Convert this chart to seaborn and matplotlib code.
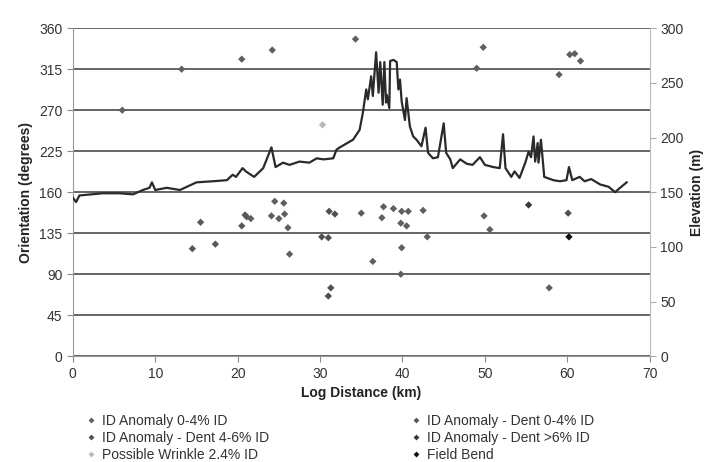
import pandas as pd
import seaborn as sns
import matplotlib.pyplot as plt

# elevation profile along the line (km, m)
dist_km = [0, 0.4, 0.8, 3.6, 5.7, 7.3, 8.5, 9.3, 9.6, 10.0, 11.4, 13.0, 15.0, 17.0,
           18.7, 19.4, 19.8, 20.6, 21.0, 22.0, 23.1, 24.1, 24.6, 25.5, 26.3, 27.5,
           28.7, 29.6, 30.4, 31.6, 32.0, 32.4, 34.0, 34.8, 35.2, 35.6, 35.8, 36.2,
           36.4, 36.8, 37.1, 37.3, 37.6, 37.8, 38.0, 38.1, 38.4, 38.5, 38.9, 39.3,
           39.5, 39.7, 39.9, 40.3, 40.5, 40.9, 41.3, 41.7, 42.3, 42.8, 43.1, 43.7,
           44.3, 45.0, 45.3, 45.8, 46.1, 47.0, 47.8, 48.5, 49.4, 50.0, 51.0, 51.8,
           52.2, 52.5, 53.2, 53.6, 54.2, 54.9, 55.3, 55.6, 55.9, 56.1, 56.4, 56.5,
           56.8, 57.2, 58.3, 59.1, 59.9, 60.2, 60.6, 61.5, 62.1, 62.9, 64.0, 65.0,
           65.8, 66.4, 67.2]
elev_m = [145, 141, 147, 149, 149, 148, 152, 154, 159, 152, 154, 152, 159, 160,
          161, 166, 164, 172, 169, 164, 172, 191, 173, 177, 175, 178,
          177, 181, 180, 181, 189, 191, 198, 207, 223, 244, 235, 256,
          238, 278, 241, 269, 230, 269, 232, 239, 227, 270, 271, 269,
          244, 253, 233, 216, 236, 210, 201, 198, 192, 209, 186, 181,
          182, 213, 186, 180, 172, 180, 176, 175, 182, 175, 173, 172,
          203, 172, 164, 169, 163, 177, 187, 182, 201, 178, 195, 177,
          198, 164, 161, 160, 161, 173, 161, 164, 160, 162, 157, 155,
          150, 154, 159]

# features (km, orientation in degrees, type)
feat_km = [6.0, 13.2, 20.5, 24.2, 34.3, 49.8, 49.0, 59.0, 60.3, 60.9, 61.6,
           14.5, 15.5, 17.3, 20.5, 20.9, 21.1, 21.6, 24.5, 24.1, 25.0, 25.6, 25.7,
           26.1, 26.3, 30.2, 31.0, 31.1, 31.8, 31.0, 31.3, 35.0, 36.4, 37.5, 37.7,
           38.9, 39.9, 40.7, 39.8, 40.5, 39.9, 39.8, 42.5, 43.0, 49.9, 50.6, 57.8,
           30.3, 55.3, 60.1, 60.2]
feat_deg = [270, 315, 326, 336, 348, 339, 316, 309, 331, 332, 324,
            118, 147, 123, 143, 155, 153, 151, 170, 154, 151, 168, 156,
            141, 112, 131, 130, 159, 156, 66, 75, 157, 104, 152, 164,
            162, 159, 159, 146, 143, 119, 90, 160, 131, 154, 139, 75,
            254, 166, 157, 131]
feat_type = (['ID Anomaly 0-4% ID'] * 11
             + ['ID Anomaly - Dent 0-4% ID'] * 6
             + ['ID Anomaly 0-4% ID'] * 8
             + ['ID Anomaly - Dent 4-6% ID'] * 6
             + ['ID Anomaly 0-4% ID'] * 16
             + ['Possible Wrinkle 2.4% ID', 'ID Anomaly - Dent >6% ID',
                'ID Anomaly - Dent 4-6% ID', 'Field Bend'])

kinds = ['ID Anomaly 0-4% ID', 'ID Anomaly - Dent 4-6% ID', 'Possible Wrinkle 2.4% ID',
         'ID Anomaly - Dent 0-4% ID', 'ID Anomaly - Dent >6% ID', 'Field Bend']
kind_colors = ['#5f5f5f', '#505050', '#b8b8b8', '#585858', '#3a3a3a', '#111111']

deg_ticks = [0, 45, 90, 135, 180, 225, 270, 315, 360]
deg_labels = ['0', '45', '90', '135', '160', '225', '270', '315', '360']

plt.rcParams['font.family'] = ['Liberation Sans', 'DejaVu Sans']

profile = pd.DataFrame({'km': dist_km, 'elev': elev_m})
feats = pd.DataFrame({'km': feat_km, 'deg': feat_deg, 'kind': feat_type})

fig = plt.figure(figsize=(7.07, 4.62), dpi=100)
ax = fig.add_axes([0.103, 0.229, 0.816, 0.710])

sns.scatterplot(data=feats, x='km', y='deg', hue='kind', hue_order=kinds,
                palette=kind_colors, marker='D', s=14, edgecolor='none', ax=ax, zorder=3)

ax.set_xlim(0, 70)
ax.set_ylim(0, 360)
ax.set_xticks(range(0, 71, 10))
ax.set_yticks(deg_ticks)
ax.set_yticklabels(deg_labels)
ax.grid(axis='y', color='#4a4a4a', linewidth=1.2)
ax.set_axisbelow(True)
for s in ['top', 'right']:
    ax.spines[s].set_visible(False)
for s in ['left', 'bottom']:
    ax.spines[s].set_color('#999999')
ax.tick_params(colors='#888888', labelcolor='#333333', labelsize=10, length=4)
ax.set_xlabel('Log Distance (km)', fontsize=10, fontweight='bold', color='#222222')
ax.set_ylabel('Orientation (degrees)', fontsize=10, fontweight='bold', color='#222222')

# elevation on the right axis
ax2 = ax.twinx()
sns.lineplot(data=profile, x='km', y='elev', color='#2a2a2a', linewidth=1.6, ax=ax2)
ax2.set_ylim(0, 300)
ax2.set_yticks(range(0, 301, 50))
for s in ['top', 'left', 'bottom']:
    ax2.spines[s].set_visible(False)
ax2.spines['right'].set_color('#bbbbbb')
ax2.tick_params(colors='#aaaaaa', labelcolor='#333333', labelsize=10, length=4)
ax2.set_ylabel('Elevation (m)', fontsize=10, fontweight='bold', color='#222222',
               labelpad=5)

handles, labels = ax.get_legend_handles_labels()
ax.get_legend().remove()
fig.legend(handles, labels, ncol=2, loc='upper left', bbox_to_anchor=(0.103, 0.125),
           frameon=False, fontsize=10, handletextpad=0.2, columnspacing=10,
           labelspacing=0.2, markerscale=0.8, handlelength=1.2, labelcolor='#333333',
           borderpad=0.2)

plt.savefig('out.png', dpi=100)
